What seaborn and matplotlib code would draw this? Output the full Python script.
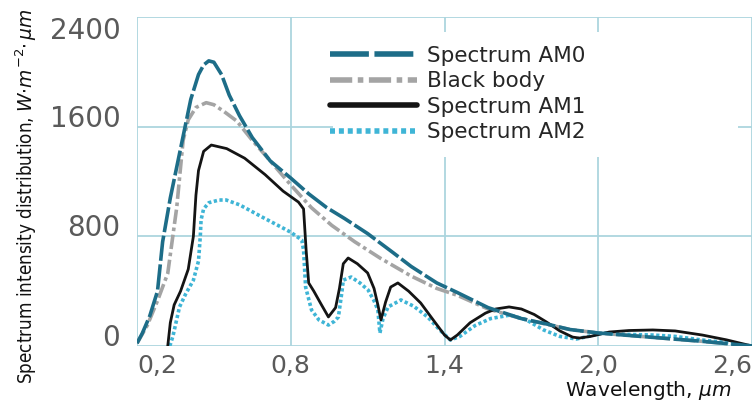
import matplotlib
matplotlib.use("Agg")
import matplotlib.pyplot as plt
import seaborn as sns
import pandas as pd
from matplotlib.patches import Rectangle

# ---------------- data ----------------
am0_x = [0.20, 0.22, 0.25, 0.28, 0.30, 0.33, 0.37, 0.41, 0.44, 0.46, 0.48, 0.50,
         0.53, 0.56, 0.60, 0.65, 0.72, 0.80, 0.87, 0.94, 1.01, 1.10, 1.20, 1.27,
         1.37, 1.45, 1.57, 1.70, 1.80, 1.89, 2.00, 2.10, 2.20, 2.30, 2.40, 2.50, 2.60]
am0_y = [20, 90, 220, 400, 760, 1080, 1440, 1800, 1980, 2050, 2080, 2070,
         1980, 1830, 1680, 1520, 1350, 1225, 1110, 1010, 930, 820, 680, 580,
         460, 390, 280, 200, 160, 120, 95, 80, 65, 50, 35, 18, 0]

bb_x = [0.20, 0.24, 0.28, 0.32, 0.355, 0.38, 0.40, 0.43, 0.47, 0.50, 0.54, 0.59,
        0.65, 0.72, 0.80, 0.88, 0.96, 1.05, 1.15, 1.27, 1.37, 1.45, 1.57, 1.70,
        1.89, 2.00, 2.20, 2.40, 2.60]
bb_y = [20, 150, 330, 530, 1010, 1500, 1650, 1740, 1775, 1760, 1710, 1640,
        1500, 1350, 1175, 1010, 880, 760, 640, 510, 420, 370, 270, 200,
        120, 95, 65, 35, 0]

am1_x = [0.32, 0.33, 0.345, 0.37, 0.40, 0.42, 0.43, 0.44, 0.46, 0.49, 0.55, 0.62,
         0.70, 0.77, 0.83, 0.85, 0.86, 0.87, 0.89, 0.92, 0.947, 0.975, 0.99, 1.005,
         1.024, 1.06, 1.10, 1.125, 1.14, 1.152, 1.17, 1.19, 1.218, 1.26, 1.307, 1.36,
         1.40, 1.423, 1.45, 1.50, 1.56, 1.60, 1.652, 1.70, 1.75, 1.798, 1.85, 1.90,
         1.926, 1.97, 2.043, 2.12, 2.213, 2.30, 2.406, 2.50, 2.60]
am1_y = [0, 170, 300, 400, 560, 800, 1100, 1280, 1420, 1466, 1440, 1370,
         1250, 1130, 1050, 1000, 700, 460, 400, 300, 212, 280, 420, 600,
         642, 600, 533, 420, 300, 190, 320, 430, 460, 400, 314, 180,
         80, 44, 80, 170, 240, 270, 285, 270, 230, 175, 110, 65,
         58, 70, 102, 113, 117, 110, 80, 45, 0]

am2_x = [0.328, 0.34, 0.366, 0.39, 0.42, 0.44, 0.447, 0.45, 0.46, 0.48, 0.52, 0.548,
         0.60, 0.688, 0.75, 0.80, 0.843, 0.85, 0.858, 0.881, 0.91, 0.947, 0.97, 0.986,
         1.00, 1.005, 1.036, 1.07, 1.102, 1.125, 1.14, 1.148, 1.16, 1.18, 1.23, 1.28,
         1.334, 1.38, 1.423, 1.46, 1.52, 1.58, 1.656, 1.72, 1.787, 1.85, 1.915, 1.96,
         2.02, 2.10, 2.213, 2.30, 2.40, 2.50, 2.60]
am2_y = [0, 70, 285, 380, 480, 620, 800, 920, 1000, 1045, 1065, 1065,
         1030, 941, 880, 830, 773, 700, 430, 263, 190, 153, 180, 212,
         400, 481, 503, 460, 408, 330, 263, 95, 200, 285, 336, 290,
         212, 120, 44, 70, 150, 200, 226, 190, 117, 70, 51, 70,
         95, 85, 80, 70, 45, 25, 0]

labels = ["Spectrum AM0", "Black body", "Spectrum AM1", "Spectrum AM2"]
x_ticks = [0.2, 0.8, 1.4, 2.0, 2.6]
x_ticklabels = ["0,2", "0,8", "1,4", "2,0", "2,6"]
y_ticks = [0, 800, 1600, 2400]
y_ticklabels = ["0", "800", "1600", "2400"]

# ---------------- plot ----------------
sns.set_theme(style="white")
plt.rcParams["font.family"] = ["DejaVu Sans"]

W, H = 752, 401
fig = plt.figure(figsize=(W / 100, H / 100), dpi=100)
ax = fig.add_axes([137 / W, 1 - 346 / H, (752 - 137) / W, (346 - 17) / H])

grid_c = "#acd5de"
for xv in x_ticks:
    ax.axvline(xv, color=grid_c, lw=1.3, zorder=0.5)
for yv in y_ticks:
    ax.axhline(yv, color=grid_c, lw=1.3, zorder=0.5)

# white panel behind legend (interrupts the grid)
ax.add_patch(Rectangle(((333 - 137) / 615, 1 - (157 - 17) / 329),
                       (738 - 333) / 615, (157 - 32) / 329,
                       transform=ax.transAxes, facecolor="white",
                       edgecolor="none", zorder=0.8))

series = [
    (am0_x, am0_y, labels[0], "#1d6d88", 2.6, (0, (7, 1)), 5),
    (bb_x, bb_y, labels[1], "#a4a4a4", 2.6, (0, (4, 1, 1, 1)), 2),
    (am1_x, am1_y, labels[2], "#141414", 2.0, "-", 4),
    (am2_x, am2_y, labels[3], "#3fb5d6", 2.6, (0, (0.9, 0.7)), 3),
]
for xs, ys, lab, col, lw, ls, z in series:
    df = pd.DataFrame({"x": xs, "y": ys})
    sns.lineplot(data=df, x="x", y="y", ax=ax, color=col, linewidth=lw,
                 linestyle=ls, label=lab, sort=False, estimator=None,
                 zorder=z)

ax.set_xlim(0.2, 2.6)
ax.set_ylim(0, 2400)
for s in ax.spines.values():
    s.set_visible(False)
ax.set_xlabel("")
ax.set_ylabel("")
ax.set_xticks(x_ticks)
ax.set_xticklabels(x_ticklabels, fontsize=18, color="#5a5a5a")
ax.set_yticks(y_ticks)
ax.set_yticklabels(y_ticklabels, fontsize=20, color="#5a5a5a")
ax.tick_params(axis="x", length=0, pad=6)
ax.tick_params(axis="y", length=0, pad=12)
xt = ax.get_xticklabels()
xt[0].set_ha("left")
xt[-1].set_ha("right")
for t in ax.get_yticklabels():
    t.set_va("baseline")
ax.get_yticklabels()[-1].set_va("top")

leg = ax.legend(loc="upper left", bbox_to_anchor=(0.314, 0.912),
                frameon=False, fontsize=15.5, handlelength=4.05,
                handletextpad=0.45, labelspacing=0.25, borderpad=0,
                borderaxespad=0)
for ln in leg.get_lines():
    ln.set_linewidth(4)

fig.text(26 / W, 1 - 196 / H,
         r"Spectrum intensity distribution, $\mathit{W}{\cdot}\mathit{m}^{-2}{\cdot}\,\mu\mathit{m}$",
         rotation=90, ha="center", va="center", fontsize=13.5,
         fontstretch="condensed", color="#111111")
fig.text(565 / W, 1 - 391 / H, r"Wavelength, $\mu\mathit{m}$",
         ha="left", va="center", fontsize=14.5, color="#111111")

fig.savefig("out.png", dpi=100, facecolor="white")
